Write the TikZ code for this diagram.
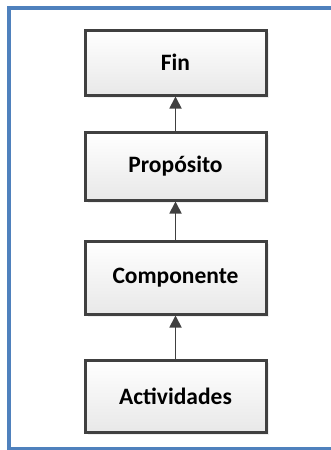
\documentclass[tikz,border=0pt]{standalone}
\usepackage{fontspec}
\setmainfont{Carlito}
\usetikzlibrary{arrows.meta, shadows}

\definecolor{marco}{HTML}{4F81BD}
\definecolor{borde}{HTML}{404040}

\tikzset{
  caja/.style={draw=borde, line width=3pt, minimum width=181pt,
    top color=white, bottom color=black!9,
    drop shadow={shadow xshift=2.5pt, shadow yshift=-2.5pt, fill=black!12},
    font=\bfseries\fontsize{23.5}{28}\selectfont},
  flecha/.style={draw=borde, line width=1.8pt, -{Triangle[width=12pt,length=12pt]}},
}

\begin{document}
\begin{tikzpicture}[x=1pt, y=1pt]
\useasboundingbox (0,0) rectangle (330,-450);
% marco azul exterior, abierto a la derecha
\draw[marco, line width=3.5pt] (331,-8) -- (9,-8) -- (9,-448.5) -- (331,-448.5);
% niveles de la matriz
\foreach \lab/\y/\h [count=\i] in {Fin/62.5/65, Propósito/166/68, Componente/277.5/73, Actividades/396/72}
  \node[caja, minimum height=\h] (n\i) at (175.5,-\y) {\lab};
\foreach \i/\j in {2/1, 3/2, 4/3}
  \draw[flecha] (n\i) -- (n\j);
\end{tikzpicture}
\end{document}
